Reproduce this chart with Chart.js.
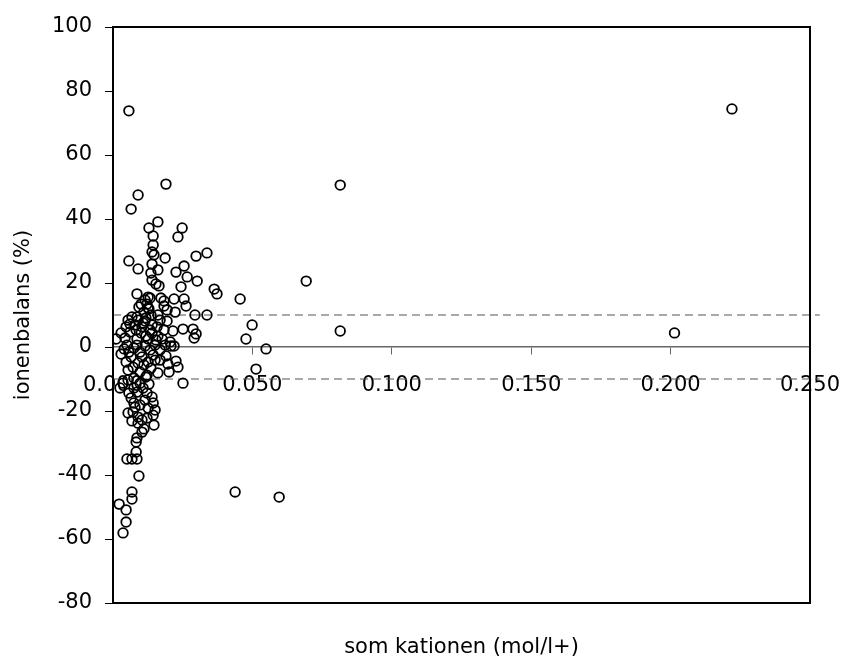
<!DOCTYPE html>
<html>
<head>
<meta charset="utf-8">
<script src="https://cdn.jsdelivr.net/npm/chart.js@4/dist/chart.umd.min.js"></script>
<style>
  html, body { margin: 0; padding: 0; background: #fff; }
  #wrap { width: 846px; height: 658px; }
</style>
</head>
<body>
<div id="wrap"><canvas id="balans"></canvas></div>
<script>
// som kationen (mol/l+) per monster
const kationen = [
  0.0057, 0.222, 0.019, 0.009, 0.0065, 0.0815, 0.0161, 0.0129, 0.0248, 0.0144,
  0.0233, 0.0144, 0.014, 0.0147, 0.0337, 0.0298, 0.0187, 0.0057, 0.014, 0.0255,
  0.009, 0.0161, 0.0136, 0.0226, 0.0266, 0.014, 0.0302, 0.0693, 0.0154, 0.0165,
  0.0244, 0.0363, 0.0373, 0.0086, 0.0126, 0.0133, 0.0172, 0.0183, 0.0219, 0.0255,
  0.0456, 0.0262, 0.0126, 0.0183, 0.0194, 0.0223, 0.0136, 0.0161, 0.0294, 0.0337,
  0.0194, 0.0068, 0.0086, 0.0061, 0.009, 0.0115, 0.014, 0.0047, 0.0104, 0.0158,
  0.0215, 0.0251, 0.0287, 0.0298, 0.0291, 0.0011, 0.0043, 0.0086, 0.0126, 0.0176,
  0.0205, 0.0499, 0.0477, 0.0549, 0.0513, 0.0815, 0.2014, 0.0438, 0.0596, 0.0251,
  0.0208, 0.0219, 0.0197, 0.0233, 0.0201, 0.0226, 0.005, 0.0072, 0.009, 0.0126,
  0.0151, 0.0161, 0.0025, 0.0036, 0.0057, 0.0086, 0.0108, 0.0122, 0.014, 0.0144,
  0.0151, 0.0144, 0.0054, 0.0072, 0.009, 0.0104, 0.0068, 0.0122, 0.009, 0.0086,
  0.0083, 0.005, 0.0068, 0.0086, 0.0093, 0.0068, 0.0068, 0.0022, 0.0047, 0.0047,
  0.0036, 0.0083, 0.0029, 0.004, 0.0057, 0.0075, 0.0097, 0.0115, 0.0133, 0.0151,
  0.0169, 0.0187, 0.0065, 0.0104, 0.0144, 0.0047, 0.0111, 0.0136, 0.0054, 0.0097,
  0.0118, 0.0075, 0.0054, 0.0097, 0.0129, 0.0075, 0.0065, 0.0115, 0.0097, 0.0126,
  0.0075, 0.0083, 0.0101, 0.0118, 0.0061, 0.014, 0.0161, 0.0029, 0.0111, 0.0101,
  0.0122, 0.0118, 0.0169, 0.0183, 0.0133, 0.0079, 0.0054, 0.0154, 0.0086, 0.019,
  0.0169, 0.0108, 0.0129, 0.0115, 0.0093, 0.0079, 0.0147, 0.0111, 0.0122, 0.0104
];

// ionenbalans (%) per monster
const ionenbalans = [
  73.8, 74.4, 50.9, 47.5, 43.1, 50.6, 39.1, 37.2, 37.2, 34.7,
  34.4, 31.9, 29.7, 28.8, 29.4, 28.4, 27.8, 26.9, 25.9, 25.3,
  24.4, 24.1, 23.1, 23.4, 21.9, 20.9, 20.6, 20.6, 19.7, 19.1,
  18.8, 18.1, 16.6, 16.6, 15.6, 15.3, 15.3, 14.4, 15.0, 15.0,
  15.0, 12.8, 12.2, 12.8, 11.6, 10.9, 10.0, 10.0, 10.0, 10.0,
  8.1, 9.4, 9.4, 7.2, 8.4, 8.1, 6.9, 6.3, 6.3, 6.3,
  5.0, 5.6, 5.6, 4.1, 2.8, 2.5, 2.8, 2.5, 2.5, 2.5,
  1.6, 6.9, 2.5, -0.6, -6.9, 5.0, 4.4, -45.3, -46.9, -11.3,
  0.3, 0.3, -5.3, -6.3, -7.8, -4.4, 0.6, -6.3, -5.0, -4.7,
  -4.1, -8.1, -12.8, -11.3, -14.4, -14.1, -12.8, -14.4, -15.6, -17.5,
  -19.7, -21.3, -20.6, -20.3, -21.9, -22.8, -23.1, -22.2, -23.8, -28.4,
  -32.8, -35.0, -35.0, -35.0, -40.3, -45.3, -47.5, -49.1, -50.9, -54.7,
  -58.1, -29.7, -2.2, -0.6, -1.6, -0.3, -1.6, 0.3, -0.9, 0.6,
  -0.9, 0.6, -3.1, -3.1, -2.5, -4.7, -5.6, -6.6, -7.2, -7.8,
  -9.4, -9.7, -10.3, -11.3, -11.6, -12.8, -15.9, -16.6, -18.1, -19.1,
  -17.5, 5.3, 4.4, 3.4, 4.7, 4.4, 3.4, 4.4, 10.9, 13.4,
  13.4, 9.1, 8.4, 5.3, 5.3, 6.9, 8.4, 2.2, 0.6, -2.8,
  -4.1, 7.5, 11.9, 14.7, 12.5, -18.8, -24.4, -25.6, -8.8, -26.6
];

// grenzen van +/- 10 %
const grensX = [0, 0.2535];
const grensBoven = [10, 10];
const grensOnder = [-10, -10];

const xTicks = [0, 0.05, 0.1, 0.15, 0.2, 0.25];
const yTicks = [-80, -60, -40, -20, 0, 20, 40, 60, 80, 100];

const FONT = 'DejaVu Sans';

const punten = kationen.map((x, i) => ({ x: x, y: ionenbalans[i] }));
const lijn = (ys) => grensX.map((x, i) => ({ x: x, y: ys[i] }));

// kader rond het plotgebied
const kader = {
  id: 'kader',
  afterDatasetsDraw(chart) {
    const { ctx, chartArea: a } = chart;
    ctx.save();
    ctx.strokeStyle = '#000';
    ctx.lineWidth = 2;
    ctx.strokeRect(a.left, a.top, a.right - a.left, a.bottom - a.top);
    ctx.restore();
  }
};

const grensStijl = {
  showLine: true,
  borderColor: '#555',
  borderWidth: 1.2,
  borderDash: [8, 5],
  pointRadius: 0,
  clip: false
};

new Chart(document.getElementById('balans'), {
  type: 'scatter',
  data: {
    datasets: [
      {
        data: punten,
        pointStyle: 'circle',
        pointRadius: 4.8,
        pointBorderWidth: 1.8,
        pointBorderColor: '#000',
        pointBackgroundColor: 'rgba(0,0,0,0)',
        showLine: false
      },
      Object.assign({ data: lijn(grensBoven) }, grensStijl),
      Object.assign({ data: lijn(grensOnder) }, grensStijl)
    ]
  },
  options: {
    responsive: true,
    maintainAspectRatio: false,
    animation: false,
    layout: { padding: { top: 27, right: 36, bottom: 0, left: 0 } },
    plugins: {
      legend: { display: false },
      tooltip: { enabled: false }
    },
    scales: {
      x: {
        type: 'linear',
        position: { y: 0 },
        min: 0,
        max: 0.25,
        afterBuildTicks: (s) => { s.ticks = xTicks.map(v => ({ value: v })); },
        afterFit: (s) => { s.paddingLeft = 0; s.paddingRight = 0; },
        ticks: {
          callback: (v) => Number(v).toFixed(3),
          color: '#000',
          font: { family: FONT, size: 21 },
          padding: 19,
          maxRotation: 0,
          autoSkip: false
        },
        grid: { drawOnChartArea: false, tickLength: 7, color: '#666', lineWidth: 1 },
        border: { color: '#666', width: 1.5 }
      },
      x2: {
        type: 'linear',
        position: 'bottom',
        min: 0,
        max: 0.25,
        afterFit: (s) => { s.height = 55; s.paddingLeft = 0; s.paddingRight = 0; },
        ticks: { display: false },
        grid: { display: false },
        border: { display: false },
        title: {
          display: true,
          text: 'som kationen (mol/l+)',
          color: '#000',
          font: { family: FONT, size: 21, lineHeight: 1 },
          padding: { top: 0, bottom: 0 }
        }
      },
      y: {
        type: 'linear',
        position: 'left',
        min: -80,
        max: 100,
        afterFit: (s) => { s.width = 113; },
        afterBuildTicks: (s) => { s.ticks = yTicks.map(v => ({ value: v })); },
        ticks: {
          color: '#000',
          font: { family: FONT, size: 21 },
          padding: 13
        },
        grid: { drawOnChartArea: false, tickLength: 8, color: '#000', lineWidth: 1 },
        border: { color: '#000', width: 2 },
        title: {
          display: true,
          text: 'ionenbalans (%)',
          color: '#000',
          font: { family: FONT, size: 21, lineHeight: 1 },
          padding: { top: 13, bottom: 0 }
        }
      }
    }
  },
  plugins: [kader]
});
</script>
</body>
</html>
